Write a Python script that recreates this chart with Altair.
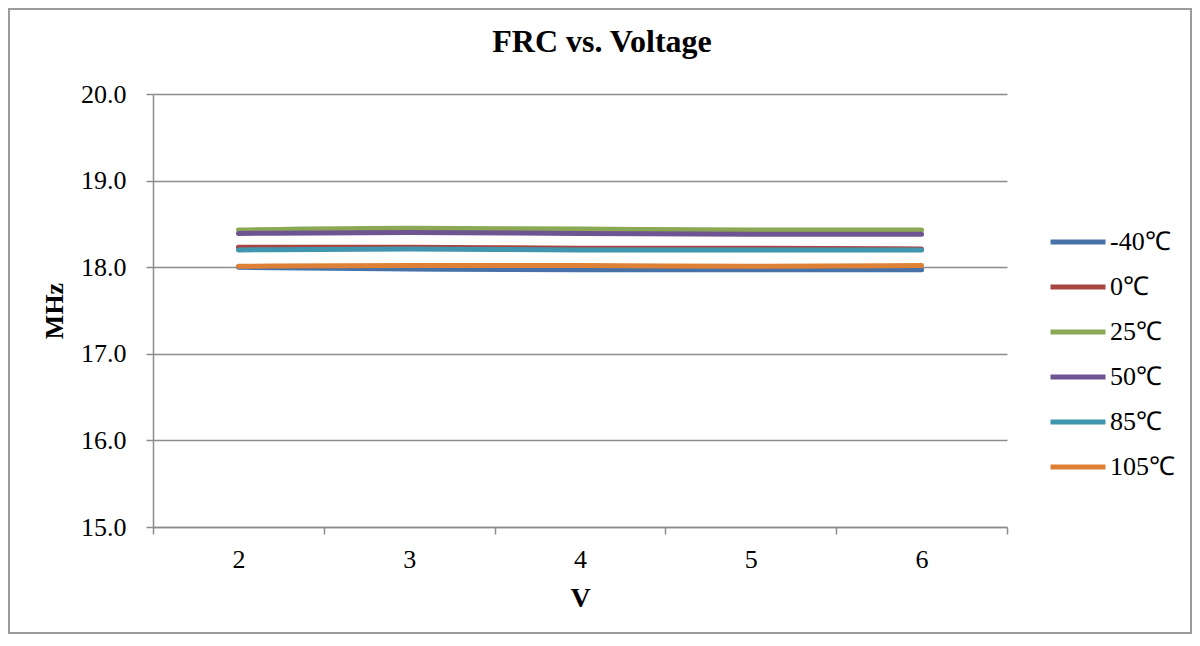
import altair as alt
import pandas as pd

voltages = [2, 3, 4, 5, 6]
series_names = ["-40℃", "0℃", "25℃", "50℃", "85℃", "105℃"]
s_m40 = [18.00, 17.98, 17.97, 17.97, 17.97]
s_0 = [18.23, 18.23, 18.22, 18.22, 18.21]
s_25 = [18.43, 18.45, 18.44, 18.43, 18.43]
s_50 = [18.39, 18.40, 18.39, 18.38, 18.38]
s_85 = [18.20, 18.21, 18.20, 18.20, 18.20]
s_105 = [18.01, 18.02, 18.02, 18.01, 18.02]
colors = ["#4672A8", "#A84442", "#8BA855", "#6E5490", "#3F96AD", "#DE8035"]

all_series = [s_m40, s_0, s_25, s_50, s_85, s_105]
rows = []
for order, (name, vals) in enumerate(zip(series_names, all_series)):
    for v, f in zip(voltages, vals):
        rows.append({"V": str(v), "MHz": f, "Temp": name, "order": order})
df = pd.DataFrame(rows)

FONT = "Liberation Serif"
GRAY = "#8c8c8c"

lines = alt.Chart(df).mark_line(
    strokeWidth=5, strokeCap="round", strokeJoin="round", interpolate="monotone"
).encode(
    x=alt.X("V:O", sort=[str(v) for v in voltages],
            scale=alt.Scale(type="band", paddingInner=0, paddingOuter=0),
            axis=alt.Axis(title="V", labelAngle=0, tickBand="extent", grid=False,
                          tickSize=7, tickColor=GRAY, tickWidth=1.5,
                          domainColor=GRAY, domainWidth=1.5,
                          labelFont=FONT, labelFontSize=26, labelColor="black",
                          labelPadding=12,
                          titleFont=FONT, titleFontSize=28, titleFontWeight="bold",
                          titleColor="black", titlePadding=12)),
    y=alt.Y("MHz:Q", scale=alt.Scale(domain=[15, 20], nice=False, zero=False),
            axis=alt.Axis(title="MHz", values=[15, 16, 17, 18, 19, 20], format=".1f",
                          grid=True, gridColor=GRAY, gridWidth=1.5,
                          tickSize=7, tickColor=GRAY, tickWidth=1.5,
                          domainColor=GRAY, domainWidth=1.5,
                          labelFont=FONT, labelFontSize=26, labelColor="black",
                          labelPadding=20,
                          titleFont=FONT, titleFontSize=26, titleFontWeight="bold",
                          titleColor="black", titlePadding=13)),
    color=alt.Color("Temp:N", sort=series_names,
                    scale=alt.Scale(domain=series_names, range=colors),
                    legend=alt.Legend(title=None, orient="none", legendX=895, legendY=138,
                                      symbolType="stroke", symbolSize=3025,
                                      symbolStrokeWidth=5, padding=0,
                                      clipHeight=20, rowPadding=19, labelOffset=2,
                                      labelFont=FONT, labelFontSize=26,
                                      labelColor="black")),
    order=alt.Order("order:Q"),
)

frame_df = pd.DataFrame({"k": [0]})
frame = alt.Chart(frame_df).mark_rect(
    fill=None, stroke="#9a9a9a", strokeWidth=2
).encode(
    x=alt.value(-144), x2=alt.value(1038), y=alt.value(-85), y2=alt.value(539)
)

chart = alt.layer(frame, lines).properties(
    width=854, height=433,
    title=alt.TitleParams("FRC vs. Voltage", font=FONT, fontSize=32, fontWeight="bold",
                          color="black", anchor="middle", dx=22, dy=51, offset=0),
    padding={"left": 145, "top": 86, "right": 185, "bottom": 107},
    autosize=alt.AutoSizeParams(type="none"),
).configure_view(stroke=None)

chart.save("out.html", embed_options={"renderer": "svg", "actions": False})
